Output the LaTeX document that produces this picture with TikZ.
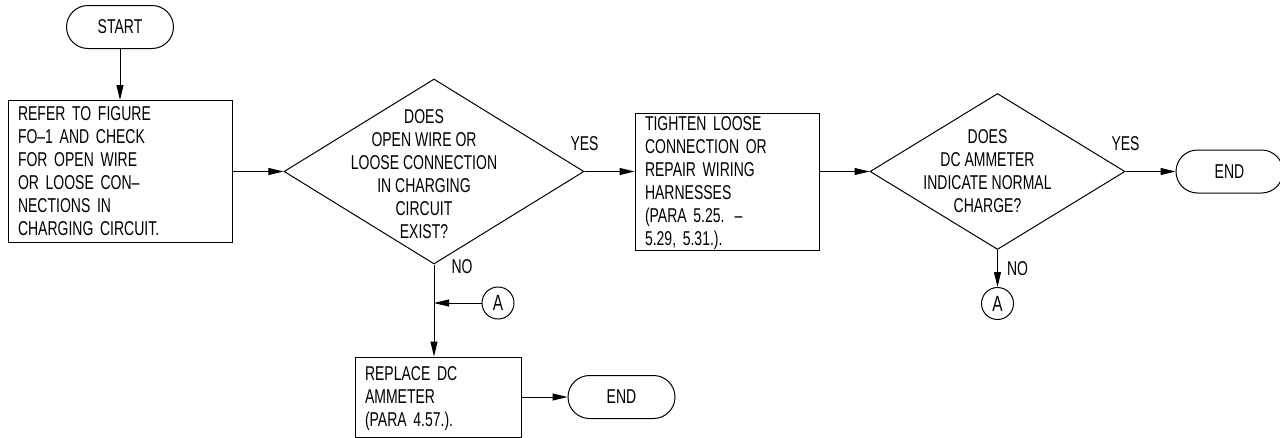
\documentclass[tikz,border=0pt]{standalone}
\usepackage{fontspec}
\setmainfont[FakeStretch=0.70]{Liberation Sans}
\usetikzlibrary{arrows.meta,positioning,shapes.geometric}

\begin{document}
\begin{tikzpicture}[
  x=1pt, y=-1pt,
  font=\fontsize{20}{23}\selectfont,
  line width=1pt,
  term/.style={draw,rounded corners=21.5pt,minimum width=107pt,minimum height=43pt,inner sep=0pt},
  procbox/.style={draw,align=left,inner xsep=10pt,inner ysep=0pt},
  decision/.style={draw,diamond,inner sep=0pt},
  dtext/.style={align=center,inner sep=0pt},
  conn/.style={draw,circle,minimum size=32pt,inner sep=0pt,font=\fontsize{22}{23}\selectfont},
  lbl/.style={inner sep=0pt},
  >={Triangle[length=15pt,width=7pt]}
]
  \useasboundingbox (0,0) rectangle (1280,437);
  \node[term] (start) at (120,27) {START};
  \node[procbox,text width=204pt,minimum height=142pt,below=51pt of start] (refer) {REFER TO FIGURE\\FO--1 AND CHECK\\FOR OPEN WIRE\\OR LOOSE CON--\\NECTIONS IN\\CHARGING CIRCUIT.};
  \node[decision,minimum width=300pt,minimum height=185pt,right=51pt of refer] (dec1) {};
  \node[dtext,xshift=-10pt,yshift=-3pt] (dec1txt) at (dec1) {DOES\\OPEN WIRE OR\\LOOSE CONNECTION\\IN CHARGING\\CIRCUIT\\EXIST?};
  \node[procbox,text width=164pt,minimum height=137pt,right=50pt of dec1,yshift=-10pt] (tighten) {TIGHTEN LOOSE\\CONNECTION OR\\REPAIR WIRING\\HARNESSES\\(PARA 5.25. --\\\smash{5.29, 5.31.).}};
  \node[decision,minimum width=255pt,minimum height=156pt,right=50pt of tighten,yshift=10pt] (dec2) {};
  \node[dtext,xshift=-10pt] (dec2txt) at (dec2) {DOES\\DC AMMETER\\INDICATE NORMAL\\CHARGE?};
  \node[term,right=50pt of dec2] (end1) {END};
  \node[conn,below=37pt of dec2] (a2) {A};
  \node[conn] (a1) at (498,303) {A};
  \coordinate (join) at (dec1.south |- a1);
  \node[procbox,text width=146pt,minimum height=80pt,below=92pt of dec1,xshift=4pt] (replace) {REPLACE DC\\AMMETER\\\smash{(PARA 4.57.).}};
  \node[term,right=46pt of replace] (end2) {END};

  \draw[->] (start) -- (refer);
  \draw[->] (refer) -- (dec1);
  \draw[->] (dec1) -- (dec1 -| tighten.west) node[pos=0,lbl,above=20pt]{YES};
  \draw[->] (tighten.east |- dec2) -- (dec2);
  \draw[->] (dec2) -- (end1) node[pos=0,lbl,above=20pt]{YES};
  \draw[->] (dec2) -- (a2) node[midway,lbl,right=9pt]{NO};
  \draw (dec1.south) -- (join) node[pos=0,lbl,anchor=north west,xshift=17pt,yshift=5pt]{NO};
  \draw[->] (a1) -- (join);
  \draw[->] (join) -- (replace.north -| join);
  \draw[->] (replace) -- (end2);
\end{tikzpicture}
\end{document}
